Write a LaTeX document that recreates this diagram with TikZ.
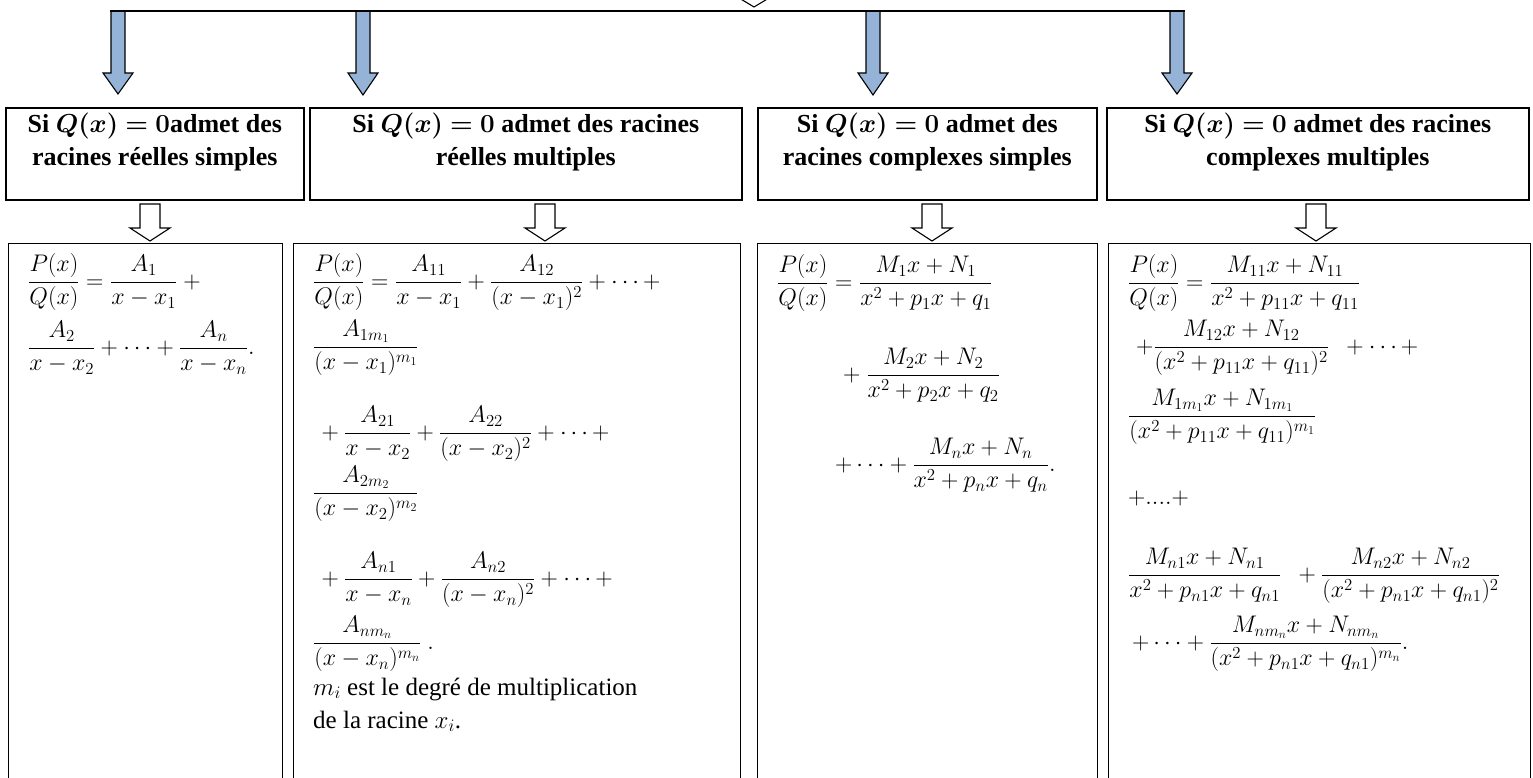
\RequirePackage{fix-cm}
\documentclass[tikz,border=0pt]{standalone}
\usepackage{amsmath}
\usepackage{bm}
\usepackage[no-math]{fontspec}
\setmainfont{Liberation Serif}
\usetikzlibrary{calc}
\definecolor{arrowblue}{RGB}{149,179,215}
\newcommand\blockarrow[6]{\begin{scope}[shift={(#2)}]\draw[#1] (-#5,0) -- (-#5,#3) -- (-#6,#3) -- (0,#4) -- (#6,#3) -- (#5,#3) -- (#5,0) -- cycle;\end{scope}}
\begin{document}
\begin{tikzpicture}[x=1pt,y=-1pt,
 headbox/.style={draw,line width=1.6pt,inner sep=0pt,anchor=north west},
 formbox/.style={draw,line width=1.3pt,inner sep=0pt,anchor=north west},
 hdr/.style={font=\fontsize{26}{33}\selectfont\bfseries,align=center,inner sep=0pt},
 fm/.style={font=\fontsize{24}{28}\selectfont,inner sep=0pt,anchor=base west},
 txt/.style={font=\fontsize{25}{33}\selectfont,inner sep=0pt,anchor=base west},
 bluearrow/.style={fill=arrowblue,draw=black,line width=1.1pt},
 hollowarrow/.style={fill=white,draw=black,line width=1.1pt}]
\useasboundingbox (0,0) rectangle (1533,778);

% header boxes
\node[headbox,minimum width=298pt,minimum height=92pt] (h1) at (5,107) {};
\node[headbox,minimum width=432pt,minimum height=92pt] (h2) at (309,107) {};
\node[headbox,minimum width=339pt,minimum height=92pt] (h3) at (757,107) {};
\node[headbox,minimum width=422pt,minimum height=92pt] (h4) at (1106,107) {};

% formula boxes (open at the bottom)
\node[formbox,minimum width=274pt,minimum height=560pt] (b1) at (8,243) {};
\node[formbox,minimum width=447pt,minimum height=560pt] (b2) at (293,243) {};
\node[formbox,minimum width=340pt,minimum height=560pt] (b3) at (757,243) {};
\node[formbox,minimum width=422pt,minimum height=560pt] (b4) at (1108,243) {};

% top distribution
\coordinate (top) at (754,-17);
\coordinate (L) at (110,11);
\coordinate (R) at (1185,11);
\coordinate (a1) at (118,11);
\coordinate (a2) at (363,11);
\coordinate (a3) at (873,11);
\coordinate (a4) at (1177,11);
\blockarrow{hollowarrow}{top}{12}{24}{10}{20}
\blockarrow{bluearrow}{a1}{62}{83}{7}{15}
\blockarrow{bluearrow}{a2}{62}{84}{7}{15}
\blockarrow{bluearrow}{a3}{62}{84}{7}{15}
\blockarrow{bluearrow}{a4}{62}{83}{7}{15}
\draw[line width=2pt] (L) -- (R);

% hollow arrows between header and formula boxes
\coordinate (c1) at (150,204);
\coordinate (c2) at (545,204);
\coordinate (c3) at (932,204);
\coordinate (c4) at (1316,204);
\blockarrow{hollowarrow}{c1}{24}{37}{10}{20}
\blockarrow{hollowarrow}{c2}{24}{37}{10}{20}
\blockarrow{hollowarrow}{c3}{24}{37}{10}{20}
\blockarrow{hollowarrow}{c4}{24}{37}{10}{20}

% header texts
\coordinate (ty) at (0,142);
\node[hdr] (t1) at (h1 |- ty) {Si $\bm{Q(x)=0}$admet des\\racines réelles simples};
\node[hdr] (t2) at (h2 |- ty) {Si $\bm{Q(x)=0}$ admet des racines\\réelles multiples};
\node[hdr] (t3) at (h3 |- ty) {Si $\bm{Q(x)=0}$ admet des\\racines complexes simples};
\node[hdr] (t4) at (h4 |- ty) {Si $\bm{Q(x)=0}$ admet des racines\\complexes multiples};

% box 1
\node[fm] (f11) at (28,288) {$\dfrac{P(x)}{Q(x)} = \dfrac{A_1}{x-x_1}\ +$};
\node[fm] (f12) at (28,354) {$\dfrac{A_2}{x-x_2} + \cdots + \dfrac{A_n}{x-x_n}.$};

% box 2
\node[fm] (f21) at (313,288) {$\dfrac{P(x)}{Q(x)} = \dfrac{A_{11}}{x-x_1} + \dfrac{A_{12}}{(x-x_1)^2} + \cdots +$};
\node[fm] (f22) at (313,353) {$\dfrac{A_{1m_1}}{(x-x_1)^{m_1}}$};
\node[fm] (f23) at (316,439) {${}+\dfrac{A_{21}}{x-x_2} + \dfrac{A_{22}}{(x-x_2)^2} + \cdots +$};
\node[fm] (f24) at (313,499) {$\dfrac{A_{2m_2}}{(x-x_2)^{m_2}}$};
\node[fm] (f25) at (316,585) {${}+\dfrac{A_{n1}}{x-x_n} + \dfrac{A_{n2}}{(x-x_n)^2} + \cdots +$};
\node[fm] (f26) at (313,649) {$\dfrac{A_{nm_n}}{(x-x_n)^{m_n}}\ .$};
\node[txt] (f27) at (313,695) {$m_i$ est le degré de multiplication};
\node[txt] (f28) at (313,728) {de la racine $x_i$.};

% box 3
\node[fm] (f31) at (777,289) {$\dfrac{P(x)}{Q(x)} = \dfrac{M_1x+N_1}{x^2+p_1x+q_1}$};
\node[fm] (f32) at (843,381) {$+\ \dfrac{M_2x+N_2}{x^2+p_2x+q_2}$};
\node[fm] (f33) at (835,471) {$+\cdots+\dfrac{M_nx+N_n}{x^2+p_nx+q_n}.$};

% box 4
\node[fm] (f41) at (1128,289) {$\dfrac{P(x)}{Q(x)} = \dfrac{M_{11}x+N_{11}}{x^2+p_{11}x+q_{11}}$};
\node[fm] (f42) at (1136,353) {$+\dfrac{M_{12}x+N_{12}}{(x^2+p_{11}x+q_{11})^2}\ \ +\cdots+$};
\node[fm] (f43) at (1128,422) {$\dfrac{M_{1m_1}x+N_{1m_1}}{(x^2+p_{11}x+q_{11})^{m_1}}$};
\node[fm] (f44) at (1128,504) {$+....+$};
\node[fm] (f45) at (1128,581) {$\dfrac{M_{n1}x+N_{n1}}{x^2+p_{n1}x+q_{n1}}\ \ +\dfrac{M_{n2}x+N_{n2}}{(x^2+p_{n1}x+q_{n1})^2}$};
\node[fm] (f46) at (1132,649) {$+\cdots+\dfrac{M_{nm_n}x+N_{nm_n}}{(x^2+p_{n1}x+q_{n1})^{m_n}}.$};
\end{tikzpicture}
\end{document}
